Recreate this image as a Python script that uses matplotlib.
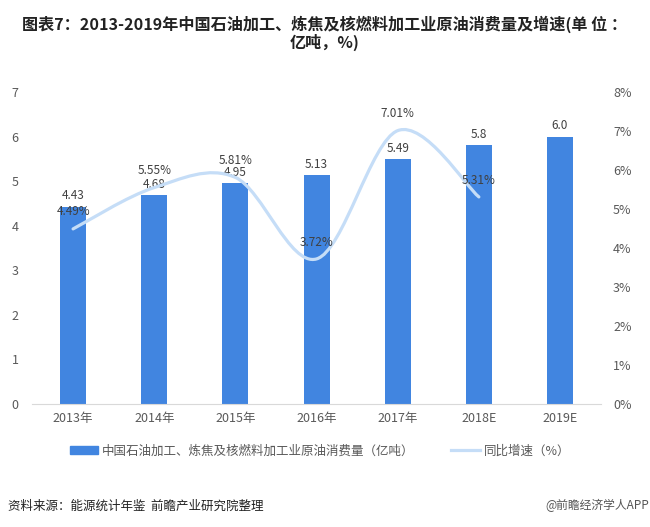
import numpy as np
import matplotlib.pyplot as plt
from matplotlib.path import Path
from matplotlib.patches import PathPatch, Patch
from matplotlib.lines import Line2D
from matplotlib.ticker import FuncFormatter

plt.rcParams['font.family'] = ['Noto Sans CJK SC', 'DejaVu Sans']

years = ['2013年', '2014年', '2015年', '2016年', '2017年', '2018E', '2019E']
consumption = [4.43, 4.68, 4.95, 5.13, 5.49, 5.8, 6.0]
consumption_labels = ['4.43', '4.68', '4.95', '5.13', '5.49', '5.8', '6.0']
growth = [4.49, 5.55, 5.81, 3.72, 7.01, 5.31]  # %, 2013-2018E

bar_color = '#4185E0'
line_color = '#C5DDF7'
text_color = '#404040'
tick_color = '#595959'

fig = plt.figure(figsize=(6.5, 5.27), dpi=100)
ax = fig.add_axes([0.05, 0.2334, 0.874, 0.592])
ax2 = ax.twinx()

x = np.arange(len(years))
ax.bar(x, consumption, width=0.32, color=bar_color, zorder=2)
for xi, v, s in zip(x, consumption, consumption_labels):
    ax.annotate(s, (xi, v), xytext=(0, 3), textcoords='offset points',
                ha='center', va='bottom', fontsize=8.5, color=text_color)

# smoothed growth line (Catmull-Rom style bezier, like Excel smoothing)
gx = x[:len(growth)].astype(float)
gy = np.array(growth)
pts = np.column_stack([gx, gy])
verts = [pts[0]]
codes = [Path.MOVETO]
n = len(pts)
for i in range(n - 1):
    p0 = pts[max(i - 1, 0)]
    p1 = pts[i]
    p2 = pts[i + 1]
    p3 = pts[min(i + 2, n - 1)]
    c1 = p1 + (p2 - p0) / 6
    c2 = p2 - (p3 - p1) / 6
    verts += [c1, c2, p2]
    codes += [Path.CURVE4] * 3
ax2.add_patch(PathPatch(Path(verts, codes), facecolor='none', edgecolor=line_color,
                        lw=2.3, capstyle='round', zorder=3))
for xi, v in zip(gx, gy):
    ax2.annotate(f'{v:.2f}%', (xi, v), xytext=(0, 7.5), textcoords='offset points',
                 ha='center', va='bottom', fontsize=8.5, color=text_color)

ax.set_xlim(-0.5, 6.5)
ax.set_ylim(0, 7)
ax2.set_ylim(0, 8)
ax.set_xticks(x)
ax.set_xticklabels(years)
ax.set_yticks(range(0, 8))
ax2.set_yticks(range(0, 9))
ax2.yaxis.set_major_formatter(FuncFormatter(lambda v, p: f'{int(v)}%'))

for a in (ax, ax2):
    for s in a.spines.values():
        s.set_visible(False)
    a.tick_params(length=0, colors=tick_color, labelsize=9)
ax.spines['bottom'].set_visible(True)
ax.spines['bottom'].set_color('#D9D9D9')
ax.tick_params(axis='y', pad=10)
ax.tick_params(axis='x', pad=6)
ax2.tick_params(axis='y', pad=9)

handles = [Patch(color=bar_color),
           Line2D([0], [0], color=line_color, lw=2.3)]
labels = ['中国石油加工、炼焦及核燃料加工业原油消费量（亿吨）', '同比增速（%）']
fig.legend(handles, labels, loc='center', bbox_to_anchor=(0.492, 0.144), ncol=2,
           frameon=False, labelcolor=tick_color, handlelength=2.3,
           handleheight=0.56, columnspacing=2.9, handletextpad=0.3,
           prop={'family': ['Noto Sans CJK SC'], 'size': 9})

fig.text(0.5, 0.97, '图表7：2013-2019年中国石油加工、炼焦及核燃料加工业原油消费量及增速(单 位 ：\n亿吨，%)',
         ha='center', va='top', fontsize=11.6, fontweight='bold', color='#222222',
         linespacing=1.05)
fig.text(0.012, 0.04, '资料来源：能源统计年鉴  前瞻产业研究院整理', ha='left', va='center',
         fontsize=9, color='#222222')
fig.text(0.999, 0.04, '@前瞻经济学人APP', ha='right', va='center',
         fontsize=8.5, color='#555555')

fig.savefig('out.png', dpi=100)
